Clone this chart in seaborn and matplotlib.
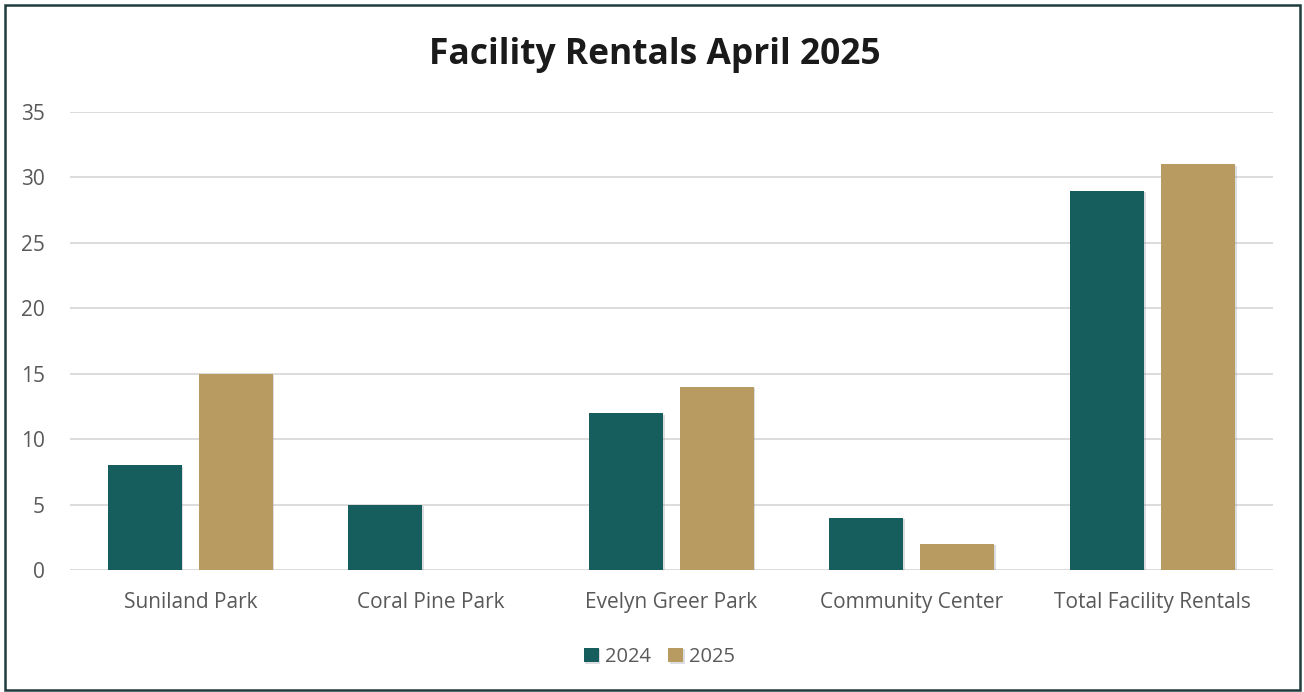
import pandas as pd
import matplotlib.pyplot as plt
import matplotlib.patheffects as pe
from matplotlib.patches import Rectangle
import seaborn as sns

# chart data
categories = ["Suniland Park", "Coral Pine Park", "Evelyn Greer Park",
              "Community Center", "Total Facility Rentals"]
rentals_2024 = [8, 5, 12, 4, 29]
rentals_2025 = [15, 0, 14, 2, 31]
years = ["2024", "2025"]
y_ticks = [0, 5, 10, 15, 20, 25, 30, 35]

df = pd.DataFrame({
    "Facility": categories * 2,
    "Year": [years[0]] * len(categories) + [years[1]] * len(categories),
    "Rentals": rentals_2024 + rentals_2025,
})

sns.set_style("white")
plt.rcParams['font.family'] = ['Open Sans', 'DejaVu Sans']

fig = plt.figure(figsize=(13.04, 6.92), dpi=100)
ax = fig.add_axes([0.0537, 0.1763, 0.9223, 0.6618])

palette = {"2024": "#165E5E", "2025": "#B89B60"}
sns.barplot(data=df, x="Facility", y="Rentals", hue="Year", palette=palette,
            width=0.756, gap=0.187, ax=ax, saturation=1, edgecolor="none")

# subtle drop shadow like the original
for bar in ax.patches:
    bar.set_path_effects([pe.SimplePatchShadow(offset=(1.2, -1.2), shadow_rgbFace="#8a9099", alpha=0.3),
                          pe.Normal()])

ax.set_ylim(0, 35)
ax.set_yticks(y_ticks)
ax.set_xlim(-0.5, len(categories) - 0.5)
ax.yaxis.grid(True, color="#d9d9d9", linewidth=1.3)
ax.set_axisbelow(True)
for s in ax.spines.values():
    s.set_visible(False)
ax.tick_params(axis="both", length=0, labelsize=15, labelcolor="#595959")
ax.tick_params(axis="x", pad=16)
ax.tick_params(axis="y", pad=18)
ax.set_xlabel("")
ax.set_ylabel("")

fig.text(0.502, 1 - 55 / 692, "Facility Rentals April 2025", ha="center", va="center",
         fontsize=25.5, fontweight="bold", color="#1a1a1a")

ax.legend(loc="center", bbox_to_anchor=(0.49, -0.19), ncol=2, frameon=False,
          fontsize=14.5, handlelength=0.75, handleheight=0.75, handletextpad=0.3,
          columnspacing=0.85, labelcolor="#595959")

# outer chart border
fig.patches.append(Rectangle((0.004, 0.003), 0.993, 0.99, transform=fig.transFigure,
                             fill=False, edgecolor="#1f3b3b", linewidth=1.8))

plt.savefig("out.png", dpi=100)
